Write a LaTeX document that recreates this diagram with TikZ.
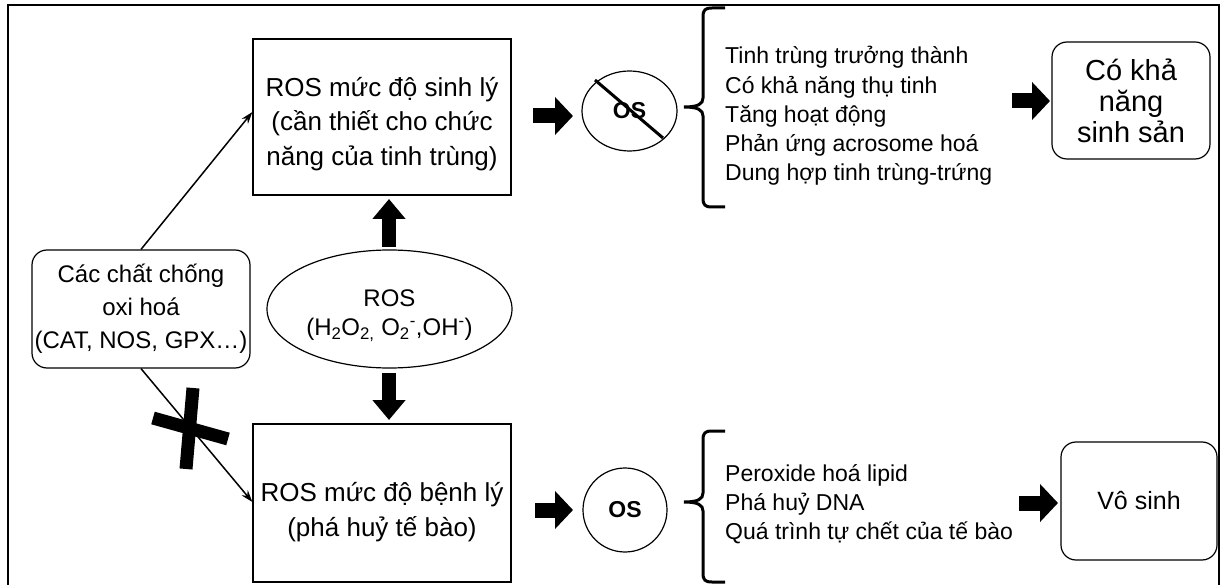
\documentclass[tikz,border=0pt]{standalone}
\usepackage{fontspec}
\setmainfont{Liberation Sans}
\usetikzlibrary{arrows.meta,shapes.geometric}
\begin{document}
\begin{tikzpicture}[x=1pt,y=-1pt,
  bx/.style={draw, line width=1.2pt, inner sep=0pt},
  rbx/.style={bx, rounded corners=15pt},
  ell/.style={draw, ellipse, line width=1.2pt, inner sep=0pt, align=center},
  txt/.style={inner sep=0pt, align=center, font=\fontsize{26}{34.3}\selectfont},
  blk/.style={line width=15pt, -{Triangle[length=18pt,width=37pt]}},
  vblk/.style={line width=14pt, -{Triangle[length=20pt,width=32pt]}},
  thin/.style={line width=1.5pt, -{Stealth[length=12pt,width=8pt]}},
  lst/.style={anchor=west, align=left, inner sep=0pt, font=\fontsize{23}{29.2}\selectfont},
  brace/.style={line width=3pt},
  cross/.style={line width=13pt}]
\useasboundingbox (0,0) rectangle (1224,585);
% frame
\draw[line width=1.5pt] (8,5) rectangle (1219,600);
% boxes
\node[bx, minimum width=258pt, minimum height=156pt] (sinhly) at (382,117) {};
\node[txt] (sinhlyt) at (382,124) {ROS mức độ sinh lý\\(cần thiết cho chức\\năng của tinh trùng)};
\node[bx, minimum width=258pt, minimum height=158pt] (benhly) at (382,503) {};
\node[txt] (benhlyt) at (382,512) {ROS mức độ bệnh lý\\(phá huỷ tế bào)};
\node[rbx, minimum width=218pt, minimum height=118pt, align=center, font=\fontsize{24}{33}\selectfont] (antiox) at (141,309)
  {Các chất chống\\oxi hoá\\(CAT, NOS, GPX…)};
\node[ell, minimum width=245pt, minimum height=118pt] (ros) at (389.5,309) {};
\node[txt, font=\fontsize{24}{29}\selectfont] (rost) at (389.5,316)
  {ROS\\(H\textsubscript{2}O\textsubscript{2,} O\textsubscript{2}\textsuperscript{-},OH\textsuperscript{-})};
\node[ell, minimum width=95pt, minimum height=80pt, font=\fontsize{23}{27}\selectfont\bfseries] (os1) at (629.5,111) {OS};
\node[ell, minimum width=84pt, minimum height=84pt, font=\fontsize{23}{27}\selectfont\bfseries] (os2) at (625,510) {OS};
\node[rbx, minimum width=158pt, minimum height=117pt, align=center, font=\fontsize{29}{31}\selectfont] (cokha) at (1131,100.5)
  {Có khả\\năng\\sinh sản};
\node[rbx, minimum width=156pt, minimum height=118pt, font=\fontsize{25}{30}\selectfont] (vosinh) at (1139,501) {Vô sinh};
\node[lst] (l1) at (725,116)
  {Tinh trùng trưởng thành\\Có khả năng thụ tinh\\Tăng hoạt động\\Phản ứng acrosome hoá\\Dung hợp tinh trùng-trứng};
\node[lst] (l2) at (725,504)
  {Peroxide hoá lipid\\Phá huỷ DNA\\Quá trình tự chết của tế bào};
% strike on OS
\draw[line width=3pt] (595,80) -- (663,138);
% thin arrows
\draw[thin] (antiox.north) -- (sinhly.west |- 0,112);
\draw[thin] (antiox.south) -- (benhly.west |- 0,502);
% cross
\draw[cross] (193,388) -- (186,469);
\draw[cross] (153,418) -- (228,439);
% block arrows
\coordinate (u1) at (389,247); \coordinate (u2) at (389,199);
\coordinate (d1) at (389,373); \coordinate (d2) at (389,420);
\coordinate (r1) at (533,116); \coordinate (r2) at (573,116);
\coordinate (r3) at (535,510); \coordinate (r4) at (573,510);
\coordinate (r5) at (1012,101); \coordinate (r6) at (1050,101);
\coordinate (r7) at (1019,503); \coordinate (r8) at (1058,503);
\draw[vblk] (u1) -- (u2);
\draw[vblk] (d1) -- (d2);
\draw[blk] (r1) -- (r2);
\draw[blk] (r3) -- (r4);
\draw[blk] (r5) -- (r6);
\draw[blk] (r7) -- (r8);
% braces
\draw[brace] (725,8) -- (712,8) .. controls (705,8) and (703,10) .. (703,17) -- (703,98)
  .. controls (703,104) and (698,107) .. (684,107) .. controls (698,107) and (703,110) .. (703,116)
  -- (703,198) .. controls (703,205) and (705,207) .. (712,207) -- (725,207);
\draw[brace] (725,431) -- (712,431) .. controls (705,431) and (703,433) .. (703,440) -- (703,493)
  .. controls (703,499) and (698,502) .. (684,502) .. controls (698,502) and (703,505) .. (703,511)
  -- (703,573) .. controls (703,580) and (705,582) .. (712,582) -- (725,582);
\end{tikzpicture}
\end{document}
